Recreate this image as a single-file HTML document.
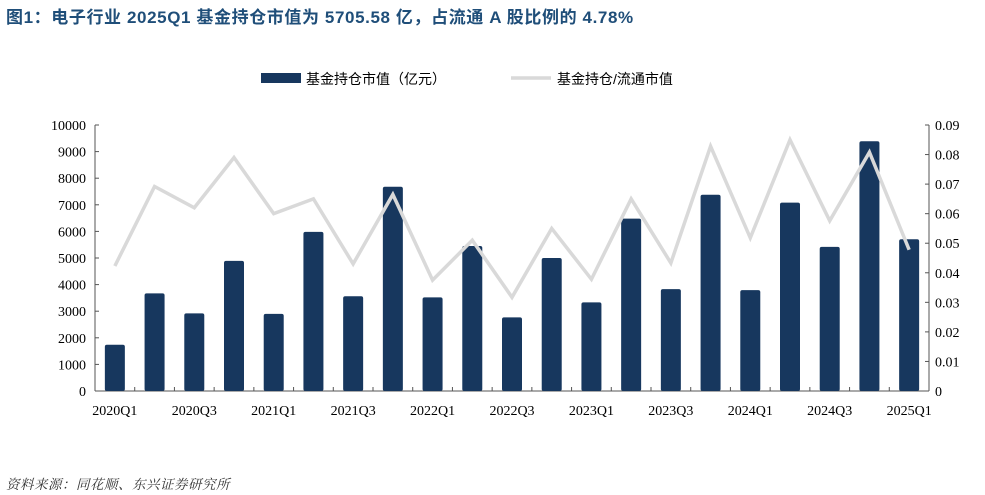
<!DOCTYPE html>
<html><head><meta charset="utf-8"><style>
body{margin:0;background:#fff;width:985px;height:495px;overflow:hidden;font-family:"Liberation Sans","Noto Sans CJK SC",sans-serif}
#title{position:absolute;left:6px;top:3px;font-size:17px;letter-spacing:0.6px;font-weight:bold;color:#1f4e79;white-space:nowrap}
#src{position:absolute;left:6px;top:473px;font-size:13.5px;font-style:italic;color:#333;font-family:"Liberation Serif","Noto Serif CJK SC",serif;letter-spacing:0.5px}
svg{position:absolute;left:0;top:0}
text{font-family:"Liberation Serif","Noto Serif CJK SC",serif;font-size:14px;fill:#000}
</style></head><body>
<div id="title">图1：电子行业 2025Q1 基金持仓市值为 5705.58 亿，占流通 A 股比例的 4.78%</div>
<svg id="c" width="985" height="495"></svg>
<div id="src">资料来源：同花顺、东兴证券研究所</div>
<script>
const categories=["2020Q1","2020Q2","2020Q3","2020Q4","2021Q1","2021Q2","2021Q3","2021Q4","2022Q1","2022Q2","2022Q3","2022Q4","2023Q1","2023Q2","2023Q3","2023Q4","2024Q1","2024Q2","2024Q3","2024Q4","2025Q1"];
const holdings=[1740,3670,2920,4890,2900,5980,3560,7680,3520,5450,2770,5000,3330,6480,3830,7380,3790,7080,5420,9390,5705.58];
const ratio=[0.0423,0.0692,0.062,0.079,0.060,0.065,0.043,0.0665,0.0375,0.051,0.0317,0.055,0.0378,0.065,0.0433,0.0828,0.0518,0.085,0.0576,0.0808,0.0478];
const leftTicks=[0,1000,2000,3000,4000,5000,6000,7000,8000,9000,10000];
const rightTicks=[0,0.01,0.02,0.03,0.04,0.05,0.06,0.07,0.08,0.09];
const NS="http://www.w3.org/2000/svg",svg=document.getElementById('c');
const X0=95,X1=929,Y0=391,Y1=125;
const band=(X1-X0)/categories.length;
const xc=i=>X0+band*(i+0.5);
const yl=v=>Y0-(v/10000)*(Y0-Y1);
const yr=v=>Y0-(v/0.09)*(Y0-Y1);
function el(t,a,p){const e=document.createElementNS(NS,t);for(const k in a)e.setAttribute(k,a[k]);(p||svg).appendChild(e);return e;}
let a=el('line',{x1:X0,y1:Y1,x2:X0,y2:Y0,stroke:'#555'});

a=el('line',{x1:X1,y1:Y1,x2:X1,y2:Y0,stroke:'#555'});

a=el('line',{x1:X0,y1:Y0,x2:X1,y2:Y0,stroke:'#555'});

leftTicks.forEach(v=>{el('line',{x1:X0,y1:yl(v),x2:X0+4,y2:yl(v),stroke:'#555'});
 const t=el('text',{x:X0-9,y:yl(v)+5,'text-anchor':'end'});t.textContent=v;
 });
rightTicks.forEach(v=>{el('line',{x1:X1-4,y1:yr(v),x2:X1,y2:yr(v),stroke:'#555'});
 const t=el('text',{x:X1+6,y:yr(v)+5});t.textContent=v===0?'0':v.toFixed(2);
 });
categories.forEach((c,i)=>{const x=X0+band*i;el('line',{x1:x,y1:Y0,x2:x,y2:Y0-4,stroke:'#555'});
 if(i%2===0){const t=el('text',{x:xc(i),y:Y0+24,'text-anchor':'middle'});t.textContent=c;
 }});
holdings.forEach((v,i)=>{const r=el('rect',{x:xc(i)-10,y:yl(v),width:20,height:Y0-yl(v),fill:'#17375e',rx:2});
 });
const p=el('polyline',{points:ratio.map((v,i)=>xc(i)+','+yr(v)).join(' '),fill:'none',stroke:'#d9d9d9','stroke-width':3.5,'stroke-linejoin':'miter'});

const lg=el('g',{});
el('rect',{x:261,y:73,width:40,height:10,fill:'#17375e'},lg);
let t=el('text',{x:306,y:84,style:'font-family:"Liberation Sans","Noto Sans CJK SC",sans-serif;font-size:14px'},lg);t.textContent='基金持仓市值（亿元）';

el('line',{x1:511,y1:78,x2:551,y2:78,stroke:'#d9d9d9','stroke-width':3.5},lg);
t=el('text',{x:557,y:84,style:'font-family:"Liberation Sans","Noto Sans CJK SC",sans-serif;font-size:14px'},lg);t.textContent='基金持仓/流通市值';

</script>
</body></html>
